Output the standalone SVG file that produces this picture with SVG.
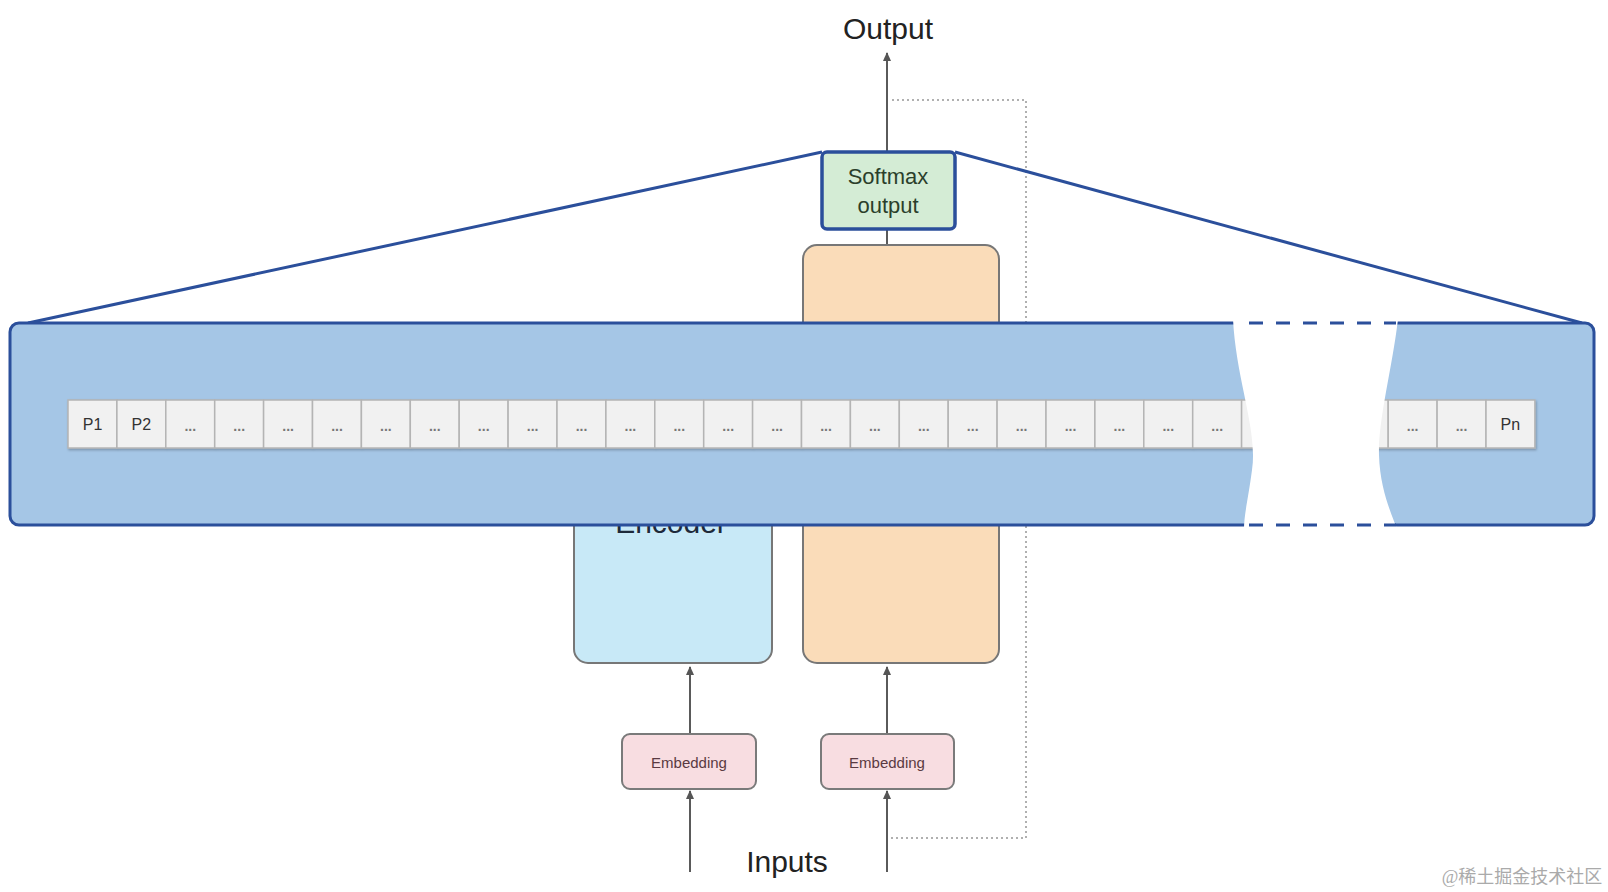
<svg xmlns="http://www.w3.org/2000/svg" width="1608" height="892" viewBox="0 0 1608 892">
<defs>
<marker id="arr" markerWidth="10" markerHeight="10" refX="8" refY="4" orient="auto" markerUnits="userSpaceOnUse">
<path d="M0,0 L9,4 L0,8 z" fill="#555"/>
</marker>
<filter id="sh" x="-10%" y="-10%" width="130%" height="130%">
<feDropShadow dx="1" dy="1.5" stdDeviation="1" flood-color="#000" flood-opacity="0.25"/>
</filter>
</defs>
<style>
.t{font-family:"Liberation Sans",Arial,sans-serif;}
.cell{fill:#f1f1f1;stroke:#b4b4b4;stroke-width:1.5;}
.ct{font-family:"Liberation Sans",Arial,sans-serif;font-size:16px;fill:#333;text-anchor:middle;}
.dt{font-family:"Liberation Sans",Arial,sans-serif;font-size:14px;font-weight:bold;fill:#777;text-anchor:middle;}
.conn{stroke:#5a5a5a;stroke-width:2;fill:none;}
.dot{stroke:#b0b0b0;stroke-width:2;fill:none;stroke-dasharray:2 3;}
.emb{fill:#f8dde1;stroke:#7a7a7a;stroke-width:2;}
.et{font-family:"Liberation Sans",Arial,sans-serif;font-size:15px;fill:#5a3a42;text-anchor:middle;}
</style>
<rect width="1608" height="892" fill="#ffffff"/>

<g id="connectors">
<path class="dot" d="M892,100 H1026 V838 H887"/>
<line class="conn" x1="887" y1="152" x2="887" y2="53" marker-end="url(#arr)"/>
<line class="conn" x1="887" y1="229" x2="887" y2="246"/>
<line class="conn" x1="690" y1="734" x2="690" y2="667" marker-end="url(#arr)"/>
<line class="conn" x1="887" y1="734" x2="887" y2="667" marker-end="url(#arr)"/>
<line class="conn" x1="690" y1="872" x2="690" y2="791" marker-end="url(#arr)"/>
<line class="conn" x1="887" y1="872" x2="887" y2="791" marker-end="url(#arr)"/>
</g>

<g id="decoder">
<rect x="803" y="245" width="196" height="418" rx="14" fill="#fadcb9" stroke="#777" stroke-width="2"/>
</g>
<g id="encoder">
<rect x="574" y="400" width="198" height="263" rx="14" fill="#c8e9f7" stroke="#777" stroke-width="2"/>
<text class="t" x="671" y="533" font-size="30" fill="#1e2a3a" text-anchor="middle">Encoder</text>
</g>

<g id="softmax">
<rect x="822" y="152" width="133" height="77" rx="5" fill="#d4ecd5" stroke="#2b4f9b" stroke-width="3.5"/>
<text class="t" x="888" y="184" font-size="22" fill="#2b3f2b" text-anchor="middle">Softmax</text>
<text class="t" x="888" y="213" font-size="22" fill="#2b3f2b" text-anchor="middle">output</text>
</g>

<g id="zoom-lines">
<line x1="822" y1="152" x2="28" y2="323" stroke="#2b4f9b" stroke-width="3"/>
<line x1="955" y1="152" x2="1582" y2="323" stroke="#2b4f9b" stroke-width="3"/>
</g>

<g id="position-strip">
<rect x="10" y="323" width="1584" height="202" rx="9" fill="#a5c6e6" stroke="#2b4f9b" stroke-width="3"/>
<g filter="url(#sh)">
<rect class="cell" x="68" y="400" width="48.9" height="48"/>
<rect class="cell" x="116.9" y="400" width="48.9" height="48"/>
<rect class="cell" x="165.8" y="400" width="48.9" height="48"/>
<rect class="cell" x="214.7" y="400" width="48.9" height="48"/>
<rect class="cell" x="263.6" y="400" width="48.9" height="48"/>
<rect class="cell" x="312.5" y="400" width="48.9" height="48"/>
<rect class="cell" x="361.4" y="400" width="48.9" height="48"/>
<rect class="cell" x="410.3" y="400" width="48.9" height="48"/>
<rect class="cell" x="459.2" y="400" width="48.9" height="48"/>
<rect class="cell" x="508.1" y="400" width="48.9" height="48"/>
<rect class="cell" x="557" y="400" width="48.9" height="48"/>
<rect class="cell" x="605.9" y="400" width="48.9" height="48"/>
<rect class="cell" x="654.8" y="400" width="48.9" height="48"/>
<rect class="cell" x="703.7" y="400" width="48.9" height="48"/>
<rect class="cell" x="752.6" y="400" width="48.9" height="48"/>
<rect class="cell" x="801.5" y="400" width="48.9" height="48"/>
<rect class="cell" x="850.4" y="400" width="48.9" height="48"/>
<rect class="cell" x="899.3" y="400" width="48.9" height="48"/>
<rect class="cell" x="948.2" y="400" width="48.9" height="48"/>
<rect class="cell" x="997.1" y="400" width="48.9" height="48"/>
<rect class="cell" x="1046" y="400" width="48.9" height="48"/>
<rect class="cell" x="1094.9" y="400" width="48.9" height="48"/>
<rect class="cell" x="1143.8" y="400" width="48.9" height="48"/>
<rect class="cell" x="1192.7" y="400" width="48.9" height="48"/>
<rect class="cell" x="1241.6" y="400" width="48.9" height="48"/>
<rect class="cell" x="1339.3" y="400" width="48.9" height="48"/>
<rect class="cell" x="1388.2" y="400" width="48.9" height="48"/>
<rect class="cell" x="1437.1" y="400" width="48.9" height="48"/>
<rect class="cell" x="1486" y="400" width="48.9" height="48"/>
</g>
<text class="ct" x="92.5" y="430">P1</text>
<text class="ct" x="141.4" y="430">P2</text>
<text class="dt" x="190.3" y="431">...</text>
<text class="dt" x="239.2" y="431">...</text>
<text class="dt" x="288.1" y="431">...</text>
<text class="dt" x="337" y="431">...</text>
<text class="dt" x="385.9" y="431">...</text>
<text class="dt" x="434.8" y="431">...</text>
<text class="dt" x="483.7" y="431">...</text>
<text class="dt" x="532.6" y="431">...</text>
<text class="dt" x="581.5" y="431">...</text>
<text class="dt" x="630.4" y="431">...</text>
<text class="dt" x="679.3" y="431">...</text>
<text class="dt" x="728.2" y="431">...</text>
<text class="dt" x="777.1" y="431">...</text>
<text class="dt" x="826" y="431">...</text>
<text class="dt" x="874.9" y="431">...</text>
<text class="dt" x="923.8" y="431">...</text>
<text class="dt" x="972.7" y="431">...</text>
<text class="dt" x="1021.6" y="431">...</text>
<text class="dt" x="1070.5" y="431">...</text>
<text class="dt" x="1119.4" y="431">...</text>
<text class="dt" x="1168.3" y="431">...</text>
<text class="dt" x="1217.2" y="431">...</text>
<text class="dt" x="1412.6" y="431">...</text>
<text class="dt" x="1461.5" y="431">...</text>
<text class="ct" x="1510.4" y="430">Pn</text>
<path d="M1233,319 C1236,380 1258,430 1252,470 C1248,500 1244,515 1244,529 L1397,529 C1392,515 1380,490 1379,455 C1378,420 1392,370 1398,319 Z" fill="#ffffff"/>
<line x1="1245" y1="323" x2="1396" y2="323" stroke="#2b4f9b" stroke-width="3" stroke-dasharray="14 13" stroke-dashoffset="-4"/>
<line x1="1245" y1="525" x2="1396" y2="525" stroke="#2b4f9b" stroke-width="3" stroke-dasharray="14 13" stroke-dashoffset="-4"/>
</g>

<g id="embedding-left">
<rect class="emb" x="622" y="734" width="134" height="55" rx="8"/>
<text class="et" x="689" y="768">Embedding</text>
</g>
<g id="embedding-right">
<rect class="emb" x="821" y="734" width="133" height="55" rx="8"/>
<text class="et" x="887" y="768">Embedding</text>
</g>

<g id="labels">
<text class="t" x="888" y="39" font-size="30" fill="#222" text-anchor="middle">Output</text>
<text class="t" x="787" y="872" font-size="30" fill="#222" text-anchor="middle">Inputs</text>
<text x="1522" y="883" font-size="18" fill="#aaaaaa" text-anchor="middle" font-family="'Liberation Serif','Noto Sans CJK SC',serif">@稀土掘金技术社区</text>
</g>
</svg>
